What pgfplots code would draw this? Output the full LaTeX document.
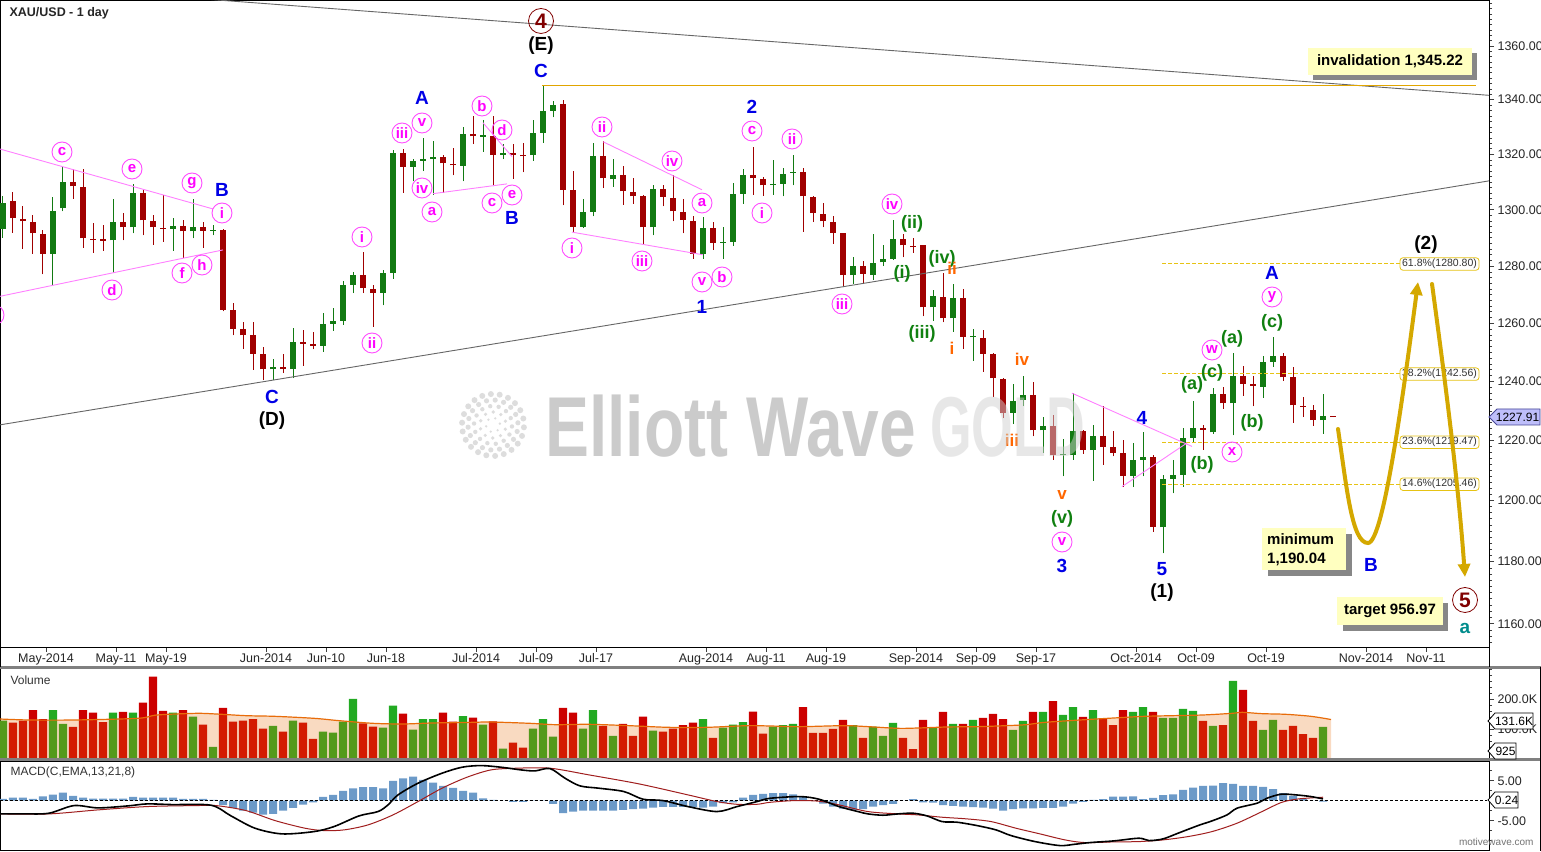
\documentclass[border=0pt]{standalone}
\usepackage{pgfplots}
\pgfplotsset{compat=1.18}
\usepackage{pgfplotstable}
\usepackage{fontspec}
\setmainfont{Liberation Sans}
\usetikzlibrary{arrows.meta}

\definecolor{cgreen}{RGB}{18,122,18}
\definecolor{cred}{RGB}{160,0,0}
\definecolor{vgreen}{RGB}{34,170,34}
\definecolor{vred}{RGB}{204,0,0}
\definecolor{maorange}{RGB}{232,108,10}
\definecolor{hblue}{RGB}{108,154,200}
\definecolor{sigred}{RGB}{160,30,30}
\definecolor{pinkline}{RGB}{255,128,255}
\definecolor{levelgold}{RGB}{225,165,0}
\definecolor{fibgold}{RGB}{230,195,20}
\definecolor{goldc}{RGB}{212,168,0}
\definecolor{boxy}{RGB}{255,255,192}
\definecolor{lav}{RGB}{190,190,250}
\definecolor{lavd}{RGB}{70,70,150}
\definecolor{wmag}{RGB}{255,0,255}
\definecolor{wblue}{RGB}{0,0,230}
\definecolor{wgreen}{RGB}{16,128,16}
\definecolor{worange}{RGB}{255,102,0}
\definecolor{wdred}{RGB}{128,0,0}
\definecolor{wteal}{RGB}{0,140,140}

\newcommand{\fs}[1]{\fontsize{#1}{#1}\selectfont}

% daily bars: index, open, high, low, close, volume (K)
\pgfplotstableread{
i o h l c v
0 1293.3 1305.0 1290.1 1302.6 127.8
5 1284.4 1304.7 1273.2 1299.7 163.3
6 1300.5 1315.8 1299.4 1310.1 116.7
11 1289.1 1304.0 1277.6 1295.8 154.4
13 1293.7 1309.4 1291.6 1306.1 154.4
17 1293.3 1297.2 1285.5 1294.2 154.4
19 1292.3 1304.0 1289.8 1294.0 141.1
21 1292.5 1294.6 1290.9 1292.9 40.0
27 1244.1 1247.6 1240.5 1244.8 110.0
29 1244.2 1258.3 1241.1 1253.5 127.8
32 1252.2 1263.5 1250.2 1259.8 91.1
33 1259.9 1265.3 1257.5 1260.9 87.8
34 1260.9 1274.8 1259.5 1273.4 124.4
35 1273.4 1277.8 1270.5 1276.9 200.0
38 1270.7 1278.6 1266.2 1277.6 104.4
39 1277.6 1321.6 1275.5 1320.5 177.8
41 1315.6 1318.5 1310.2 1317.6 97.8
42 1317.7 1325.9 1313.9 1318.3 133.3
43 1318.3 1324.9 1305.4 1318.9 133.3
46 1315.8 1329.8 1310.2 1327.5 143.3
48 1326.4 1332.7 1321.0 1327.0 114.4
50 1319.8 1323.7 1318.3 1320.5 34.4
53 1319.7 1332.5 1317.6 1327.9 101.1
54 1327.9 1345.22 1324.3 1335.9 133.3
55 1335.9 1339.5 1333.5 1338.1 74.4
58 1294.0 1303.8 1293.5 1299.3 101.1
59 1299.3 1324.1 1297.6 1319.3 163.3
61 1310.9 1318.3 1308.3 1312.5 76.7
65 1293.7 1309.0 1290.9 1307.6 94.4
70 1284.3 1297.4 1282.5 1293.5 133.3
72 1288.3 1294.0 1282.5 1288.7 104.4
73 1288.7 1309.7 1287.1 1305.7 114.4
74 1305.7 1314.8 1302.1 1312.5 123.3
77 1308.9 1317.9 1305.4 1309.4 107.8
78 1309.4 1315.0 1304.8 1313.0 113.3
79 1313.3 1319.8 1308.8 1313.6 116.7
85 1276.8 1283.1 1273.8 1280.2 113.3
87 1276.9 1291.2 1275.2 1281.1 107.8
88 1281.3 1287.5 1280.0 1282.5 76.7
89 1282.6 1296.4 1282.3 1289.7 120.0
93 1265.5 1271.7 1260.9 1269.4 104.4
95 1261.7 1273.8 1257.1 1268.8 116.7
97 1255.2 1258.0 1247.1 1255.6 130.0
101 1229.4 1239.2 1225.5 1233.4 96.7
102 1233.5 1242.0 1231.5 1235.3 126.7
104 1223.4 1227.9 1215.8 1225.0 156.7
106 1215.0 1220.6 1208.0 1215.4 146.7
107 1215.0 1236.2 1213.6 1223.2 173.3
109 1216.9 1225.3 1206.6 1221.5 163.3
113 1208.2 1219.2 1204.4 1213.6 156.7
114 1213.6 1222.8 1208.0 1214.5 173.3
116 1191.2 1208.6 1182.7 1207.2 136.7
117 1207.2 1213.6 1202.4 1208.5 136.7
118 1208.6 1224.2 1204.6 1220.8 166.7
119 1220.8 1233.4 1219.2 1224.2 160.0
121 1222.7 1237.6 1222.2 1235.7 110.0
123 1232.5 1249.7 1221.7 1242.0 260.0
126 1238.2 1248.8 1234.5 1246.8 96.7
127 1246.8 1255.2 1245.1 1248.8 130.0
132 1226.8 1235.7 1222.3 1228.3 106.7
}\upbars

\pgfplotstableread{
i o h l c v
1 1303.2 1306.5 1291.9 1296.9 121.1
2 1296.8 1301.5 1286.2 1295.9 127.8
3 1295.8 1298.2 1284.4 1291.6 163.3
4 1291.5 1292.9 1277.1 1284.4 133.3
7 1310.1 1314.7 1304.0 1308.4 106.7
8 1308.3 1314.7 1286.5 1289.8 163.3
9 1289.7 1295.3 1284.7 1289.2 154.4
10 1289.5 1294.7 1285.5 1289.0 123.3
12 1295.8 1298.9 1289.1 1293.7 156.7
14 1306.1 1307.2 1290.9 1296.2 187.8
15 1296.1 1298.3 1287.6 1293.7 274.4
16 1293.6 1305.3 1288.7 1293.2 160.0
18 1294.2 1296.5 1283.0 1292.3 163.3
20 1294.0 1295.8 1286.5 1292.6 114.4
22 1292.9 1293.3 1264.1 1264.7 170.0
23 1264.7 1267.2 1255.8 1258.2 124.4
24 1258.1 1260.4 1251.1 1255.8 127.8
25 1255.8 1260.4 1244.0 1249.5 133.3
26 1249.4 1251.8 1240.5 1244.1 101.1
28 1245.0 1249.4 1242.8 1244.2 91.1
30 1253.5 1257.8 1245.4 1252.9 121.1
31 1253.0 1257.0 1251.0 1252.2 66.7
36 1276.9 1284.9 1270.5 1272.3 118.9
37 1272.0 1273.2 1258.7 1270.7 107.8
40 1320.5 1322.0 1306.2 1315.6 151.1
44 1319.0 1319.7 1306.0 1316.7 154.4
45 1316.5 1322.2 1312.4 1316.0 124.4
47 1327.5 1334.2 1323.7 1326.5 137.8
49 1326.7 1333.9 1308.4 1319.8 125.6
51 1320.6 1323.7 1311.1 1319.8 54.4
52 1319.6 1324.3 1313.5 1319.3 37.8
56 1338.5 1339.9 1301.6 1307.2 170.0
57 1307.2 1314.1 1291.9 1294.0 154.4
60 1319.3 1324.9 1307.8 1311.3 110.0
62 1312.5 1315.8 1301.8 1306.6 116.7
63 1306.4 1311.6 1302.1 1304.8 76.7
64 1304.8 1305.2 1287.8 1293.7 141.1
66 1307.6 1309.0 1301.2 1304.6 91.1
67 1304.4 1312.4 1295.9 1299.4 101.1
68 1299.2 1303.8 1291.6 1296.4 113.3
69 1296.1 1297.6 1282.5 1284.3 121.1
71 1293.5 1295.6 1285.7 1288.3 70.0
75 1312.5 1322.6 1305.4 1311.3 157.8
76 1311.2 1311.8 1305.1 1308.8 84.4
80 1313.6 1315.0 1292.2 1304.8 173.3
81 1304.6 1305.0 1295.6 1298.8 86.7
82 1298.5 1302.5 1293.7 1295.9 86.7
83 1295.7 1297.9 1287.8 1291.9 100.0
84 1291.7 1291.9 1272.5 1276.8 130.0
86 1280.2 1281.7 1274.0 1277.3 70.0
90 1289.7 1291.5 1283.1 1287.3 70.0
91 1287.1 1289.9 1284.8 1286.6 33.3
92 1287.3 1287.5 1262.4 1265.5 130.0
94 1269.3 1277.4 1260.3 1261.7 156.7
96 1268.8 1272.0 1251.1 1255.4 116.7
98 1255.0 1257.8 1243.4 1249.5 136.7
99 1249.4 1249.6 1234.6 1241.0 150.0
100 1240.8 1241.0 1227.5 1229.4 133.3
103 1235.3 1239.8 1221.4 1223.4 156.7
105 1224.9 1228.7 1213.6 1215.0 193.3
108 1223.2 1223.6 1215.6 1216.9 140.0
110 1221.5 1231.5 1211.9 1217.9 133.3
111 1217.8 1223.3 1214.7 1215.9 113.3
112 1215.9 1220.3 1204.4 1208.2 163.3
115 1214.5 1215.0 1189.8 1191.4 156.7
120 1224.1 1225.3 1216.9 1223.6 126.7
122 1235.7 1238.2 1230.7 1232.5 113.3
124 1242.0 1245.4 1235.2 1239.1 230.0
125 1239.0 1242.0 1231.5 1238.5 126.7
128 1248.8 1249.7 1240.2 1241.4 96.7
129 1241.4 1244.8 1226.0 1231.8 110.0
130 1231.7 1234.6 1227.9 1231.3 83.3
131 1230.4 1232.0 1225.0 1226.8 70.0
133 1228.1 1228.2 1227.9 1227.91 0.925
}\downbars

% horizontal levels: start index, end index, price
\pgfplotstableread{
x0 x1 p
115.9 139.7 1280.80
115.9 139.7 1242.56
115.9 139.7 1219.47
115.9 139.7 1205.46
}\fiblevels

% one candlestick per table row: wick from low to high, body from open to close
\newcommand{\drawcandles}[2]{%
  \pgfplotstablegetrowsof{#1}%
  \pgfmathtruncatemacro{\nrows}{\pgfplotsretval-1}%
  \pgfplotsforeachungrouped \r in {0,...,\nrows}{%
    \pgfplotstablegetelem{\r}{i}\of{#1}\let\ci\pgfplotsretval
    \pgfplotstablegetelem{\r}{o}\of{#1}\let\co\pgfplotsretval
    \pgfplotstablegetelem{\r}{h}\of{#1}\let\ch\pgfplotsretval
    \pgfplotstablegetelem{\r}{l}\of{#1}\let\cl\pgfplotsretval
    \pgfplotstablegetelem{\r}{c}\of{#1}\let\cc\pgfplotsretval
    \pgfmathsetmacro{\blo}{min(\co,\cc)}%
    \pgfmathsetmacro{\bhi}{max(\co,\cc,\blo+0.4)}%
    \edef\cmd{%
      \noexpand\addplot[#2, line width=1pt] coordinates {(\ci,\cl) (\ci,\ch)};
      \noexpand\addplot[#2, line width=6.6pt] coordinates {(\ci,\blo) (\ci,\bhi)};
    }\cmd
  }%
}

\pgfplotsset{
  panel/.style={scale only axis, anchor=south west, width=1489pt, xmin=-0.3, xmax=148.6,
    axis line style={black, line width=0.8pt},
    tick style={black!75, line width=0.6pt}, tick align=outside,
    major tick length=5pt, minor tick length=3pt,
    ytick pos=right, yticklabel pos=right,
    yticklabel style={font=\fs{12.5}, text=black!85, anchor=west},
  },
}

\begin{document}
\begin{tikzpicture}
\useasboundingbox (0,0) rectangle (1541pt,851pt);
\fill[white] (0,0) rectangle (1541pt,851pt);

% ---------------- price panel (logarithmic price scale) ----------------
\begin{axis}[panel, at={(0pt,204pt)}, height=647pt,
  y coord trafo/.code={\pgfmathparse{ln(#1)}},
  y coord inv trafo/.code={\pgfmathparse{exp(#1)}},
  ymin=1152.6, ymax=1377.3,
  ytick={1160,1180,1200,1220,1240,1260,1280,1300,1320,1340,1360},
  yticklabels={1160.00,1180.00,1200.00,1220.00,1240.00,1260.00,1280.00,1300.00,1320.00,1340.00,1360.00},
  minor ytick={1154,1156,...,1376},
  xtick pos=left,
  xtick={4.3,11.3,16.3,26.3,32.3,38.3,47.3,53.3,59.3,70.3,76.3,82.3,91.3,97.3,103.3,113.3,119.3,126.3,136.3,142.3},
  xticklabels={May-2014,May-11,May-19,Jun-2014,Jun-10,Jun-18,Jul-2014,Jul-09,Jul-17,Aug-2014,Aug-11,Aug-19,Sep-2014,Sep-09,Sep-17,Oct-2014,Oct-09,Oct-19,Nov-2014,Nov-11},
  xticklabel style={font=\fs{12.5}, text=black!85, yshift=2pt},
]
\drawcandles{\upbars}{cgreen}
\drawcandles{\downbars}{cred}

% channel lines
\addplot[black!60, line width=0.9pt] coordinates {(-0.3,1383.5) (148.6,1341.6)};
\addplot[black!60, line width=0.9pt] coordinates {(-0.3,1225.3) (148.6,1310.4)};
% invalidation level
\addplot[draw=levelgold, line width=1.6pt, mark=none] coordinates {(53.9,1345.22) (147.3,1345.22)};
% retracement levels
\pgfplotsinvokeforeach{0,1,2,3}{
  \pgfplotstablegetelem{#1}{p}\of{\fiblevels}\let\lvl\pgfplotsretval
  \edef\cmd{\noexpand\addplot[draw=fibgold, line width=1.1pt, dash pattern=on 4pt off 2pt, mark=none]
    coordinates {(115.9,\lvl) (139.7,\lvl)};}\cmd
}
% triangle boundaries
\addplot[pinkline, line width=0.9pt] coordinates {(-0.3,1321.9) (21.0,1300.3)};
\addplot[pinkline, line width=0.9pt] coordinates {(-0.3,1269.4) (22.0,1285.7)};
\addplot[pinkline, line width=0.9pt] coordinates {(43.0,1305.8) (50.4,1309.3)};
\addplot[pinkline, line width=0.9pt] coordinates {(48.0,1331.5) (50.9,1319.2)};
\addplot[pinkline, line width=0.9pt] coordinates {(60.0,1324.6) (69.9,1307.2)};
\addplot[pinkline, line width=0.9pt] coordinates {(56.9,1292.0) (70.0,1284.0)};
\addplot[pinkline, line width=0.9pt] coordinates {(106.9,1236.0) (118.9,1218.0)};
\addplot[pinkline, line width=0.9pt] coordinates {(111.9,1204.6) (118.4,1219.2)};
\end{axis}

% ---------------- volume panel ----------------
\begin{axis}[panel, at={(0pt,92pt)}, height=91pt,
  ymin=0, ymax=303.3, xtick=\empty,
  ytick={100,200}, yticklabels={100.0K,200.0K},
  minor ytick={20,40,...,300},
]
\addplot[ybar, bar width=8.4pt, bar shift=0pt, fill=vgreen, draw=none] table[x=i, y=v] {\upbars};
\addplot[ybar, bar width=8.4pt, bar shift=0pt, fill=vred, draw=none] table[x=i, y=v] {\downbars};
\addplot[draw=none, fill=maorange, fill opacity=0.25, smooth] coordinates {
(-0.3,133.3) (2.6,130) (7.1,130) (13.5,135.6) (15.4,146.7) (19.3,152.2) (21.3,150) (24.3,144.4)
(27.2,142.2) (31.1,135.6) (33.6,127.8) (37.0,118.9) (40.0,116.7) (42.9,120) (46.9,122.2) (48.8,123.3)
(52.7,118.9) (55.2,114.4) (58.6,115.6) (62.6,111.1) (66.5,105.6) (70.4,105.6) (74.4,111.1) (76.7,110)
(79.7,107.8) (84.1,111.1) (86.5,107.8) (89.5,102.2) (91.5,103.3) (94.4,106.7) (97.4,107.8) (100.3,111.1)
(102.3,114.4) (104.2,122.2) (108.2,131.1) (111.1,136.7) (114.1,142.2) (117.0,144.4) (120.0,146.7)
(122.9,152.2) (123.9,155.6) (125.9,151.1) (128.3,148.9) (130.8,142.2) (132.8,131.6)} \closedcycle;
\addplot[maorange, line width=1.2pt, smooth] coordinates {
(-0.3,133.3) (2.6,130) (7.1,130) (13.5,135.6) (15.4,146.7) (19.3,152.2) (21.3,150) (24.3,144.4)
(27.2,142.2) (31.1,135.6) (33.6,127.8) (37.0,118.9) (40.0,116.7) (42.9,120) (46.9,122.2) (48.8,123.3)
(52.7,118.9) (55.2,114.4) (58.6,115.6) (62.6,111.1) (66.5,105.6) (70.4,105.6) (74.4,111.1) (76.7,110)
(79.7,107.8) (84.1,111.1) (86.5,107.8) (89.5,102.2) (91.5,103.3) (94.4,106.7) (97.4,107.8) (100.3,111.1)
(102.3,114.4) (104.2,122.2) (108.2,131.1) (111.1,136.7) (114.1,142.2) (117.0,144.4) (120.0,146.7)
(122.9,152.2) (123.9,155.6) (125.9,151.1) (128.3,148.9) (130.8,142.2) (132.8,131.6)};
\end{axis}

% ---------------- MACD panel ----------------
\begin{axis}[panel, at={(0pt,1pt)}, height=89pt,
  ymin=-12.325, ymax=9.925, xtick=\empty,
  ytick={-5,5}, yticklabels={-5.00,5.00},
  minor ytick={-10,-7.5,-2.5,2.5,7.5},
]
\addplot[ybar, bar width=8pt, bar shift=0pt, fill=hblue, draw=none] coordinates {
(0,0.45) (1,0.78) (2,0.78) (3,0.45) (4,1.1) (5,1.5) (6,2.0) (7,1.2) (8,0.8) (9,0.55) (10,0.55)
(11,0.55) (12,0.55) (13,0.95) (14,0.8) (15,0.8) (16,0.8) (17,0.8) (18,0.45) (19,0.45) (20,0.45)
(21,0.2) (22,-1.1) (23,-1.8) (24,-2.5) (25,-3.0) (26,-3.5) (27,-3.3) (28,-2.5) (29,-1.8) (30,-1.0)
(31,-0.4) (32,0.95) (33,1.45) (34,2.45) (35,3.1) (36,3.4) (37,3.4) (38,3.1) (39,4.95) (40,5.6)
(41,6.0) (42,5.2) (43,4.5) (44,3.7) (45,3.2) (46,2.45) (47,2.0) (48,0.6) (49,0.2) (50,0.05)
(51,-0.3) (52,-0.3) (53,0.1) (54,0.1) (55,-0.8) (56,-3.1) (57,-2.7) (58,-2.5) (59,-2.5) (60,-2.5)
(61,-2.5) (62,-2.3) (63,-2.1) (64,-2.0) (65,-1.7) (66,-1.55) (67,-1.55) (68,-1.55) (69,-1.55)
(70,-1.7) (71,-1.45) (72,-0.6) (73,-0.4) (74,0.8) (75,1.45) (76,1.7) (77,1.9) (78,1.9) (79,1.6)
(80,0.9) (81,0.05) (82,-0.7) (83,-1.5) (84,-2.0) (85,-2.3) (86,-2.1) (87,-1.5) (88,-1.1) (89,-0.8)
(90,0.05) (91,0.4) (92,-0.4) (93,-0.5) (94,-1.1) (95,-1.3) (96,-1.5) (97,-1.6) (98,-1.7) (99,-2.0)
(100,-2.5) (101,-2.1) (102,-1.9) (103,-1.9) (104,-1.8) (105,-1.8) (106,-1.5) (107,-0.7) (108,-0.3)
(109,0.2) (110,0.4) (111,1.0) (112,1.0) (113,1.1) (114,0.4) (115,0.7) (116,1.4) (117,1.6) (118,2.7)
(119,3.3) (120,3.7) (121,3.8) (122,4.4) (123,4.2) (124,3.7) (125,3.7) (126,3.45) (127,2.9)
(128,1.9) (129,1.2) (130,0.4) (131,0.05) (132,-0.2)};
\addplot[black, line width=0.8pt, dash pattern=on 3pt off 2pt] coordinates {(-0.3,0) (148.4,0)};
\addplot[sigred, line width=1pt, smooth] coordinates {
(-0.3,-3.3) (4.6,-3.3) (9.5,-2.3) (14.4,-1.47) (19.3,-1.22) (21.3,-1.22) (24.3,-2.47) (27.2,-4.97)
(30.2,-6.88) (32.1,-7.47) (34.1,-7.3) (36.5,-6.05) (39.0,-3.55) (41.5,-0.22) (43.9,3.12) (46.4,5.87)
(48.8,7.7) (51.3,8.12) (54.7,8.12) (58.6,6.45) (63.6,4.2) (68.5,1.45) (71.4,-0.22) (73.4,-0.9)
(75.4,-0.9) (76.7,-0.4) (79.2,0.03) (81.6,-0.13) (83.6,-1.05) (86.5,-2.72) (89.5,-3.3) (91.5,-3.55)
(93.9,-4.13) (96.4,-4.55) (98.8,-5.22) (101.3,-6.88) (103.7,-8.3) (106.2,-9.8) (108.2,-10.47)
(111.1,-10.3) (113.6,-10.22) (116.0,-9.8) (118.5,-8.97) (120.9,-7.72) (123.4,-5.63) (125.9,-2.72)
(127.8,-0.47) (129.3,0.37) (130.8,0.7) (132.0,0.87)};
\addplot[black, line width=1.6pt, smooth] coordinates {
(-0.3,-3.3) (2.2,-3.3) (4.6,-3.13) (7.1,-1.22) (9.5,-1.8) (12.5,-1.3) (14.4,-0.8) (16.9,-0.97)
(20.8,-1.13) (22.8,-3.8) (25.2,-6.88) (27.9,-8.3) (31.1,-7.72) (33.1,-6.47) (35.6,-3.8) (37.5,-2.72)
(38.5,-1.05) (39.5,1.45) (41.5,4.37) (43.9,6.87) (45.9,8.37) (47.8,8.78) (49.8,8.37) (51.8,7.7)
(53.2,7.45) (54.7,8.03) (56.2,5.62) (57.7,3.7) (59.6,3.12) (62.1,2.28) (64.0,0.37) (66.0,0.03)
(68.5,-1.47) (71.4,-2.72) (73.4,-1.47) (75.4,-0.22) (76.7,0.6) (79.7,1.03) (81.6,0.37) (83.6,-1.47)
(85.5,-2.72) (86.5,-3.3) (88.0,-3.63) (89.5,-3.3) (91.0,-3.13) (92.4,-3.8) (93.9,-5.22) (95.4,-5.38)
(97.4,-6.22) (99.3,-7.3) (100.8,-8.72) (103.2,-10.22) (105.7,-11.22) (107.2,-10.88) (108.7,-10.47)
(111.1,-10.05) (113.6,-9.38) (114.6,-9.97) (116.0,-9.55) (117.5,-8.13) (119.5,-6.22) (120.9,-5.05)
(122.4,-3.55) (123.4,-1.88) (125.4,-0.63) (126.4,0.62) (127.8,1.62) (129.3,1.45) (130.8,1.03) (132.0,0.45)};
\end{axis}

% ---------------- annotations (pixel frame, origin top-left) ----------------
\begin{scope}[shift={(0pt,851pt)}, x=1pt, y=-1pt]
\tikzset{
  pc/.style={circle, draw=wmag!70, line width=0.9pt, text=wmag, font=\bfseries\fs{15}, inner sep=0pt, minimum size=20pt},
  bl/.style={text=wblue, font=\bfseries\fs{19}, inner sep=0pt},
  bk/.style={text=black, font=\bfseries\fs{19}, inner sep=0pt},
  gr/.style={text=wgreen, font=\bfseries\fs{18}, inner sep=0pt},
  orl/.style={text=worange, font=\bfseries\fs{17}, inner sep=0pt},
  dr/.style={circle, draw=wdred, line width=0.8pt, text=wdred, font=\bfseries\fs{21}, inner sep=0pt, minimum size=25pt},
}
% separators and frame
\fill[black!50] (0,666.5) rectangle (1541,669.5);
\fill[black!50] (0,758.5) rectangle (1541,761.5);
\draw[black, line width=0.8pt] (0.4,647) -- (0.4,667);
\draw[black, line width=0.8pt] (1489,647) -- (1489,667);
\draw[black, line width=1pt] (1540.5,667) -- (1540.5,851);

% watermark logo
\foreach \r/\n/\s in {7/6/1.3, 13/10/1.8, 19/14/2.2, 25/18/2.6, 31/22/3.0} {
  \foreach \k in {1,...,\n} {
    \fill[black!22, opacity=0.6] ({493+\r*cos(360*\k/\n+\r*7)}, {425+\r*sin(360*\k/\n+\r*7)}) circle (\s pt);
  }
}

% titles
\node[anchor=west, font=\bfseries\fs{12.5}, text=black!85] at (6,13) {XAU/USD - 1 day};
\node[anchor=west, font=\fs{12}, text=black!80] at (7,680) {Volume};
\node[anchor=west, font=\fs{12}, text=black!80] at (7,772) {MACD(C,EMA,13,21,8)};
\node[anchor=east, font=\fs{10}, text=black!55] at (1537,842) {motivewave.com};

% wave labels
\foreach \lx/\ly/\lt in {62/152/c, 132/169/e, 192/183/g, 222/213/i, 112/290/d, 182/273/f, 202/265/h, -6/315/i,
  362/237/i, 372/343/ii, 402/133/iii, 422/123/v, 422/188/iv, 432/212/a, 482/106/b, 502/130/d, 492/203/c, 512/195/e,
  602/127/ii, 572/248/i, 642/261/iii, 672/161/iv, 702/203/a, 702/282/v, 722/277/b,
  752/131/c, 792/139/ii, 762/213/i, 892/204/iv, 842/304/iii,
  1062/542/v, 1212/350/w, 1232/452/x, 1272/297/y}
  {\node[pc] at (\lx,\ly) {\lt};}
\foreach \lx/\ly/\lt in {222/190/B, 422/98/A, 512/218/B, 272/397/C, 541/71/C, 702/307/1, 752/107/2,
  1062/566/3, 1142/418/4, 1162/569/5, 1272/273/A, 1371/565/B}
  {\node[bl] at (\lx,\ly) {\lt};}
\node[bk] at (272,421) {(D)};
\node[bk] at (541,46) {(E)};
\node[bk] at (1162,593) {(1)};
\node[bk] at (1426,245) {(2)};
\foreach \lx/\ly/\lt in {912/224/(ii), 902/274/(i), 942/259/(iv), 922/334/(iii), 1062/519/(v),
  1192/385/(a), 1202/465/(b), 1212/373/(c), 1232/339/(a), 1252/423/(b), 1272/323/(c)}
  {\node[gr] at (\lx,\ly) {\lt};}
\foreach \lx/\ly/\lt in {952/268/ii, 952/348/i, 1022/359/iv, 1012/440/iii, 1062/495/v}
  {\node[orl] at (\lx,\ly) {\lt};}
\node[dr] at (541,21) {4};
\node[dr] at (1465,600) {5};
\node[text=wteal, font=\bfseries\fs{19}] at (1465,628) {a};

% retracement tags
\foreach \yy/\lab in {264.0/61.8\%(1280.80), 374.1/38.2\%(1242.56), 442.2/23.6\%(1219.47), 484.2/14.6\%(1205.46)}
  {\node[draw=fibgold, fill=white, line width=0.8pt, rounded corners=3pt, minimum width=79pt, minimum height=12.5pt,
     inner sep=0pt, font=\fs{10.5}, text=black!80] at (1439.5,\yy) {\lab};}

% projected path
\draw[goldc, line width=4pt, line cap=round, -{Triangle[length=13pt,width=12pt]}]
  (1338,429) .. controls (1347,490) and (1352,543) .. (1368,543) .. controls (1384,543) and (1405,380) .. (1418,282);
\draw[goldc, line width=4pt, line cap=round, -{Triangle[length=13pt,width=12pt]}]
  (1432,284) .. controls (1445,380) and (1458,480) .. (1465,577);

% note boxes
\fill[black!47] (1313,53) rectangle (1477,80);
\fill[boxy] (1308,48) rectangle (1472,75);
\node[font=\bfseries\fs{15}] at (1390,61.5) {invalidation 1,345.22};
\fill[black!47] (1268,534) rectangle (1352,576);
\fill[boxy] (1262,528) rectangle (1346,570);
\node[anchor=west, font=\bfseries\fontsize{15}{19}\selectfont, align=left, inner sep=0pt] at (1267,550) {minimum\\1,190.04};
\fill[black!47] (1343,603) rectangle (1448,631);
\fill[boxy] (1337,597) rectangle (1443,625);
\node[font=\bfseries\fs{15}] at (1390,611) {target 956.97};

% watermark text
\node[anchor=base west, inner sep=0pt, text=black!40, opacity=0.5] at (545,457)
  {\scalebox{0.775}[1]{\bfseries\fs{85}Elliott Wave}};
\node[anchor=base west, inner sep=0pt, text=black!18, opacity=0.5] at (930,457)
  {\scalebox{0.63}[1]{\bfseries\fs{85}GOLD}};

% last-value markers
\filldraw[fill=lav, draw=lavd, line width=0.8pt] (1489,417) -- (1497,409) -- (1540,409) -- (1540,425) -- (1497,425) -- cycle;
\node[font=\fs{12}] at (1517.5,417.5) {1227.91};
\filldraw[fill=white, draw=black, line width=0.8pt] (1488,721) -- (1495,713) -- (1533,713) -- (1533,729) -- (1495,729) -- cycle;
\node[font=\fs{12}] at (1514,721.5) {131.6K};
\filldraw[fill=white, draw=black, line width=0.8pt] (1488,751) -- (1495,743) -- (1516,743) -- (1516,759) -- (1495,759) -- cycle;
\node[font=\fs{12}] at (1505.5,751.5) {925};
\filldraw[fill=white, draw=black, line width=0.8pt] (1488,800) -- (1495,792) -- (1518,792) -- (1518,808) -- (1495,808) -- cycle;
\node[font=\fs{12}] at (1506.5,800.5) {0.24};
\end{scope}
\end{tikzpicture}
\end{document}
